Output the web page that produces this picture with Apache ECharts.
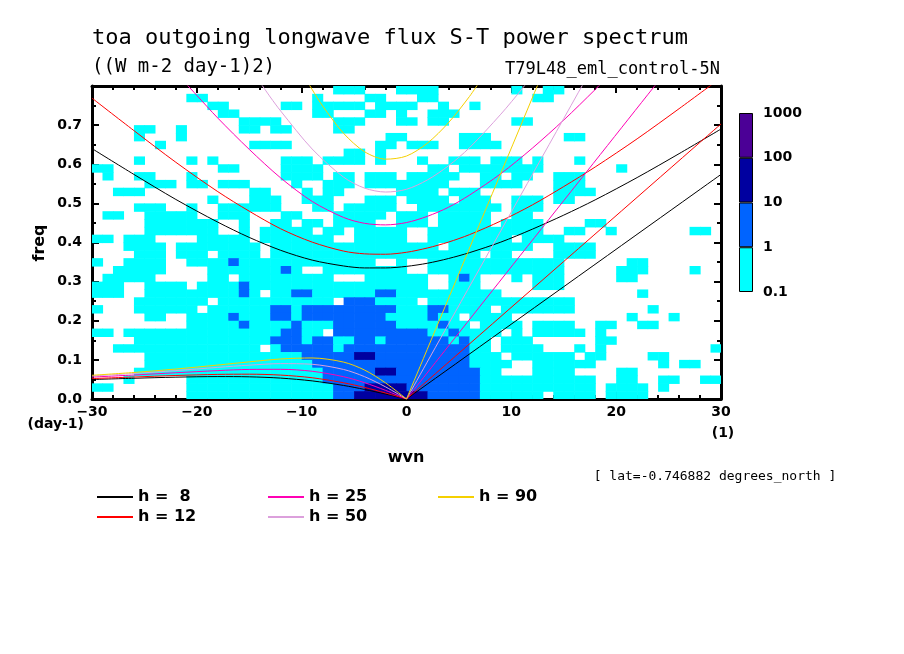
<!DOCTYPE html>
<html lang="en">
<head>
<meta charset="UTF-8">
<title>toa outgoing longwave flux S-T power spectrum</title>
<script src="https://cdn.jsdelivr.net/npm/echarts/dist/echarts.min.js"></script>
<style>
  html, body { margin: 0; padding: 0; background: #fff; }
  #chart { width: 904px; height: 654px; }
</style>
</head>
<body>
<div id="chart"></div>
<script>
// power level per cell: '.' below 0.1, '1' 0.1-1, '2' 1-10, '3' 10-100, '4' 100-1000
// one row per 0.02 day-1 (top row first), one column per wavenumber from -30 to 30
const powerRows = [
  '....................|...111...1111.......|1..11...............',
  '.........11.........|.1....11...11.......|..11................',
  '...........11.....11|.11111.1111..1..1...|....................',
  '............11......|.11...11.1..111.....|....................',
  '..............1111..|...111...11.11......|11..................',
  '....11..1.....11.11.|...11...............|....................',
  '....1...1...........|........11.....111..|.....11.............',
  '......1........1111.|.......11.111..1111.|....................',
  '....................|....11.1............|....................',
  '....1....1.1......11|1.1111.1...1..111.11|1.1...1.............',
  '11..........11....11|11..........11.11111|111.......1.........',
  '.1..11...1........11|11.11.111.11111..11.|11..111.............',
  '.....111.11.111....1|..111.11111111...111|1...111.............',
  '..111..........11...|1.11.....1111.111...|....1111............',
  '...........1...111..|111...111.1111.111..|111.11..............',
  '....111..1..111111..|.11.11111..11111111.|111.................',
  '.11..11111..111...11|...11111.111.11111..|11..................',
  '.....1111111..1..11.|11.1111..111.11111.1|111....11...........',
  '.....1111111..1.1111|1.11.11111..11111111|111..11..1.......11.',
  '11.111....11111.1111|111..11111..11111111|.1111...............',
  '...1111.11111111.111|1111111111111.111111|11..1111............',
  '....111.111.1111.111|11111111111111111.11|....1111............',
  '1..1111..11112111111|1111111..1..11111111|11111......11.......',
  '..11111....111111121|..11111111..11111111|11111.....111....1..',
  '.11111.....11.111111|111...111111..121...|1.111.....11........',
  '111..1111.1111211111|111111111111..111...|..111...............',
  '111..11111111121.112|2111111221111111111.|............1.......',
  '....1111111.11111111|111.2221111.11111111|111111..............',
  '1...111111.111111221|222222222111221111.1|111111.......1......',
  '.....11..11112111221|222222221111211.1111|...........1...1....',
  '.........11111211112|1112222221111211.111|1.1111..11..11......',
  '11.11111111111111122|11.2222222221121111.|1.11111.1...........',
  '....1111111111111222|122112212222221211.1|11......11..........',
  '..11111111111111.122|222122222222222211.1|111...1.1..........1',
  '.....111111111111111|2222233222222222111.|111111.11....11.....',
  '.....111111111111111|12222222222222221111|..111111......1.11..',
  '....1111111111111111|1122222332222222211.|..1111....11........',
  '...1.....11111111111|11222222222222222111|11111111..11..11..11',
  '11.......11111111111|11122233332222222111|11111111.1111.1.....',
  '.........11111111111|11122333333322222111|111.1111.1111.......'
];

const levelTicks = ['0.1', '1', '10', '100', '1000'];
const levelColors = ['#00ffff', '#0064ff', '#0000a0', '#4b0096'];

const depthNames = ['h =  8', 'h = 12', 'h = 25', 'h = 50', 'h = 90'];
const depthColors = ['#000000', '#ff0000', '#ff00b4', '#dca0dc', '#f5d000'];

// n=1 inertia-gravity curves (wavenumber, frequency)
const igWvn8 = [-30, -26, -22, -18, -15, -12, -9, -6, -4, -2, 0, 2, 4, 6, 9, 12, 15, 18, 22, 26, 30];
const igFrq8 = [0.640, 0.574, 0.510, 0.452, 0.413, 0.380, 0.355, 0.340, 0.335, 0.335, 0.339, 0.347, 0.359, 0.374, 0.401, 0.434, 0.470, 0.509, 0.566, 0.627, 0.690];
const igWvn12 = [-30, -26, -22, -18, -15, -12, -9, -6, -4, -2, 0, 2, 4, 6, 9, 12, 15, 18, 22, 26, 30];
const igFrq12 = [0.769, 0.686, 0.605, 0.530, 0.480, 0.435, 0.401, 0.378, 0.371, 0.370, 0.375, 0.386, 0.401, 0.420, 0.455, 0.496, 0.543, 0.593, 0.665, 0.742, 0.821];
const igWvn25 = [-22, -20, -18, -15, -12, -9, -6, -4, -2, 0, 2, 4, 6, 9, 12, 15, 18, 20];
const igFrq25 = [0.834, 0.776, 0.718, 0.638, 0.565, 0.505, 0.464, 0.449, 0.445, 0.451, 0.467, 0.490, 0.521, 0.576, 0.641, 0.713, 0.791, 0.845];
const igWvn50 = [-15, -13, -12, -9, -6, -4, -2, 0, 2, 4, 6, 9, 11, 12];
const igFrq50 = [0.849, 0.772, 0.736, 0.639, 0.567, 0.539, 0.529, 0.536, 0.560, 0.596, 0.642, 0.728, 0.792, 0.827];
const igWvn90 = [-10, -9, -8, -6, -4, -2, 0, 2, 4, 6, 7];
const igFrq90 = [0.836, 0.791, 0.749, 0.679, 0.632, 0.613, 0.621, 0.654, 0.706, 0.773, 0.812];

// n=1 equatorial Rossby curves
const erWvn = [-30, -26, -22, -18, -15, -12, -9, -6, -4, -2, 0];
const erFrq8 = [0.0498, 0.0530, 0.0558, 0.0573, 0.0567, 0.0534, 0.0463, 0.0346, 0.0244, 0.0126, 0];
const erFrq12 = [0.0522, 0.0562, 0.0601, 0.0629, 0.0634, 0.0611, 0.0543, 0.0415, 0.0296, 0.0154, 0];
const erFrq25 = [0.0560, 0.0613, 0.0671, 0.0726, 0.0756, 0.0759, 0.0709, 0.0570, 0.0417, 0.0221, 0];
const erFrq50 = [0.0587, 0.0652, 0.0726, 0.0808, 0.0865, 0.0904, 0.0887, 0.0755, 0.0571, 0.0310, 0];
const erFrq90 = [0.0606, 0.0678, 0.0766, 0.0868, 0.0950, 0.1023, 0.1049, 0.0943, 0.0740, 0.0412, 0];

// Kelvin waves: straight lines from the origin to wavenumber 30
const kelvinWvn = [0, 30];
const kelvinFrq8 = [0, 0.574];
const kelvinFrq12 = [0, 0.703];
const kelvinFrq25 = [0, 1.014];
const kelvinFrq50 = [0, 1.434];
const kelvinFrq90 = [0, 1.924];

const igWvn = [igWvn8, igWvn12, igWvn25, igWvn50, igWvn90];
const igFrq = [igFrq8, igFrq12, igFrq25, igFrq50, igFrq90];
const erFrq = [erFrq8, erFrq12, erFrq25, erFrq50, erFrq90];
const kelvinFrq = [kelvinFrq8, kelvinFrq12, kelvinFrq25, kelvinFrq50, kelvinFrq90];

const cellK = 1, cellF = 0.02;
const cells = [];
powerRows.forEach((row, i) => {
  const line = row.replace(/\|/g, '');
  const r = powerRows.length - 1 - i;
  for (let j = 0; j < line.length; j++) {
    const c = line[j];
    if (c === '.') continue;
    cells.push([-30 + (j + 0.5) * cellK, (r + 0.5) * cellF, Number(c) - 1]);
  }
});

function curve(name, color, wvn, frq) {
  return {
    name: name,
    type: 'line',
    xAxisIndex: 0,
    yAxisIndex: 0,
    data: wvn.map((k, i) => [k, frq[i]]),
    symbol: 'none',
    smooth: 0.3,
    clip: true,
    silent: true,
    z: 3,
    lineStyle: { color: color, width: 1 },
    itemStyle: { color: color }
  };
}

const lineSeries = [];
depthNames.forEach((name, i) => {
  lineSeries.push(curve(name, depthColors[i], igWvn[i], igFrq[i]));
  lineSeries.push(curve(name, depthColors[i], erWvn, erFrq[i]));
  lineSeries.push(curve(name, depthColors[i], kelvinWvn, kelvinFrq[i]));
});

const colorbarSeries = levelColors.map((c, i) => ({
  name: 'level' + i,
  type: 'bar',
  xAxisIndex: 2,
  yAxisIndex: 2,
  stack: 'cb',
  data: [1],
  barWidth: '100%',
  silent: true,
  itemStyle: { color: c, borderColor: '#000', borderWidth: 1 }
}));

const labelFont = { fontFamily: 'DejaVu Sans', fontWeight: 'bold', fontSize: 14, color: '#000' };
const axisLine = { show: true, onZero: false, lineStyle: { color: '#000', width: 3 } };
const axisTick = { show: true, inside: true, length: 7, lineStyle: { color: '#000', width: 2 } };
const minorLine = { color: '#000', width: 2 };

const legendCommon = {
  orient: 'vertical',
  top: 484,
  icon: 'rect',
  itemWidth: 36,
  itemHeight: 2,
  itemGap: 4,
  selectedMode: false,
  textStyle: { fontFamily: 'DejaVu Sans', fontWeight: 'bold', fontSize: 16, color: '#000' }
};

function label(text, x, y, font, align, extra) {
  return Object.assign({
    type: 'text',
    x: x,
    y: y,
    silent: true,
    style: {
      text: text, font: font, fill: '#000',
      align: align, verticalAlign: 'middle',
      textAlign: align, textVerticalAlign: 'middle'
    }
  }, extra || {});
}

const chart = echarts.init(document.getElementById('chart'));
chart.setOption({
  animation: false,
  backgroundColor: '#fff',
  grid: [
    { left: 92, top: 86, width: 629, height: 313 },
    { left: 739, top: 113, width: 14, height: 179 }
  ],
  xAxis: [
    {
      type: 'value', gridIndex: 0, position: 'bottom', min: -30, max: 30, interval: 10,
      axisLine: axisLine, axisTick: axisTick,
      minorTick: { show: true, splitNumber: 5, length: 4, lineStyle: minorLine },
      splitLine: { show: false },
      axisLabel: Object.assign({ margin: 6, formatter: v => String(v).replace('-', '\u2212') }, labelFont)
    },
    {
      type: 'value', gridIndex: 0, position: 'top', min: -30, max: 30, interval: 10,
      axisLine: axisLine, axisTick: axisTick,
      minorTick: { show: true, splitNumber: 5, length: 4, lineStyle: minorLine },
      splitLine: { show: false }, axisLabel: { show: false }
    },
    {
      type: 'category', gridIndex: 1, data: ['cb'], show: false
    }
  ],
  yAxis: [
    {
      type: 'value', gridIndex: 0, position: 'left', min: 0, max: 0.8, interval: 0.1,
      axisLine: axisLine, axisTick: axisTick,
      minorTick: { show: true, splitNumber: 2, length: 4, lineStyle: minorLine },
      splitLine: { show: false },
      axisLabel: Object.assign({ margin: 10, showMaxLabel: false, formatter: v => v.toFixed(1) }, labelFont)
    },
    {
      type: 'value', gridIndex: 0, position: 'right', min: 0, max: 0.8, interval: 0.1,
      axisLine: axisLine, axisTick: axisTick,
      minorTick: { show: true, splitNumber: 2, length: 4, lineStyle: minorLine },
      splitLine: { show: false }, axisLabel: { show: false }
    },
    {
      type: 'value', gridIndex: 1, position: 'right', min: 0, max: 4, interval: 1,
      axisLine: { show: false }, axisTick: { show: false }, splitLine: { show: false },
      axisLabel: Object.assign({ margin: 10, formatter: v => levelTicks[v] }, labelFont)
    }
  ],
  legend: [
    Object.assign({ left: 92, data: [depthNames[0], depthNames[1]] }, legendCommon),
    Object.assign({ left: 263, data: [depthNames[2], depthNames[3]] }, legendCommon),
    Object.assign({ left: 433, data: [depthNames[4]] }, legendCommon)
  ],
  graphic: [
    label('toa outgoing longwave flux S-T power spectrum', 92, 38, '22px "DejaVu Sans Mono"', 'left'),
    label('((W m-2 day-1)2)', 92, 67, '19px "DejaVu Sans Mono"', 'left'),
    label('T79L48_eml_control-5N', 720, 70, '17px "DejaVu Sans Mono"', 'right'),
    label('(day-1)', 84, 424, 'bold 14px "DejaVu Sans"', 'right'),
    label('(1)', 723, 433, 'bold 14px "DejaVu Sans"', 'center'),
    label('wvn', 406, 458, 'bold 16px "DejaVu Sans"', 'center'),
    label('freq', 40, 243, 'bold 16px "DejaVu Sans"', 'center', { rotation: Math.PI / 2 }),
    label('[ lat=-0.746882 degrees_north ]', 715, 477, '13px "DejaVu Sans Mono"', 'center')
  ],
  series: [
    {
      name: 'power',
      type: 'custom',
      xAxisIndex: 0,
      yAxisIndex: 0,
      data: cells,
      encode: { x: 0, y: 1 },
      clip: true,
      silent: true,
      z: 1,
      renderItem: (params, api) => {
        const p = api.coord([api.value(0) - cellK / 2, api.value(1) + cellF / 2]);
        const s = api.size([cellK, cellF]);
        return {
          type: 'rect',
          shape: { x: p[0], y: p[1], width: s[0] + 0.6, height: s[1] + 0.6 },
          style: { fill: levelColors[api.value(2)] }
        };
      }
    }
  ].concat(lineSeries, colorbarSeries)
});
</script>
</body>
</html>
